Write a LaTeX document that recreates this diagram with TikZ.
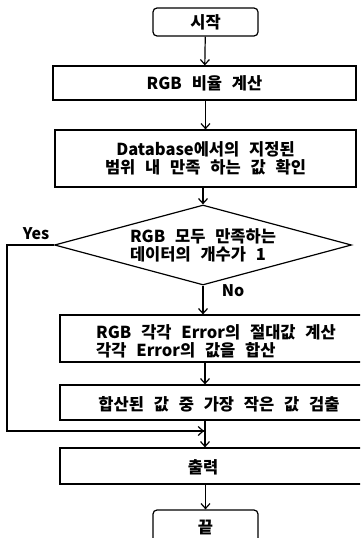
\documentclass[tikz,border=0pt]{standalone}
\usepackage{fontspec}
\setmainfont{Noto Sans CJK KR}[WordSpace=2.6]
\usetikzlibrary{arrows.meta,shapes.geometric}
\begin{document}
\begin{tikzpicture}[x=1pt,y=-1pt,
  every node/.style={font=\bfseries\fontsize{16.5}{18}\selectfont, inner sep=0pt},
  box/.style={draw, line width=1.2pt, rectangle},
  term/.style={draw, line width=1.2pt, rectangle, rounded corners=4pt, minimum width=105pt},
  conn/.style={line width=1.2pt, -{Straight Barb[length=5pt,width=9pt,line width=1.2pt]}},
  plain/.style={line width=1.2pt},
  lbl/.style={font=\bfseries\fontsize{16}{18}\selectfont}]
\useasboundingbox (0,0) rectangle (360,538);
\clip (0,0) rectangle (360,538);
\node[term, minimum height=28pt] (start) at (205.5,22) {시작};
\node[box, minimum width=303pt, minimum height=34pt] (rgb) at (204.5,83) {RGB 비율 계산};
\node[box, minimum width=301pt, minimum height=57pt, align=center] (db) at (205.5,158.5) {Database에서의 지정된\\범위 내 만족 하는 값 확인};
\node[diamond, aspect=3.7, draw, line width=1.2pt, minimum width=297pt, minimum height=80pt, align=left] (dia) at (203,245) {RGB 모두 만족하는\\데이터의 개수가 1};
\node[box, minimum width=325pt, minimum height=47pt] (err) at (222.5,338.5) {};
\node[anchor=west, align=left] (errt) at (96,341) {RGB 각각 Error의 절대값 계산\\각각 Error의 값을 합산};
\node[box, minimum width=325pt, minimum height=35pt] (sum) at (222.5,402.5) {};
\node (sumt) at (219,404) {합산된 값 중 가장 작은 값 검출};
\node[box, minimum width=325pt, minimum height=36pt] (out) at (222.5,466) {};
\node (outt) at (203,467) {출력};
\node[term, minimum height=40pt] (end) at (205.5,530) {};
\node (endt) at (205.5,527) {끝};
\node[lbl] (yes) at (36,234) {Yes};
\node[lbl] (no) at (233,291) {No};
\coordinate (c1) at (7,245);
\coordinate (c2) at (7,431);
\coordinate (j) at (205,431);
\draw[conn] (start) -- (rgb);
\draw[conn] (rgb.south -| start) -- (db.north -| start);
\draw[conn] (db.south -| dia.north) -- (dia.north);
\draw[conn] (dia.south) -- (err.north -| dia.south);
\draw[conn] (err.south -| j) -- (sum.north -| j);
\draw[conn] (sum.south -| j) -- (out.north -| j);
\draw[conn] (out.south -| end) -- (end.north);
\draw[plain] (dia.west) -- (c1) -- (c2) -- ([xshift=-1.5pt]j);
\draw[conn] (c2) -- ([xshift=-1pt]j);
\end{tikzpicture}
\end{document}
